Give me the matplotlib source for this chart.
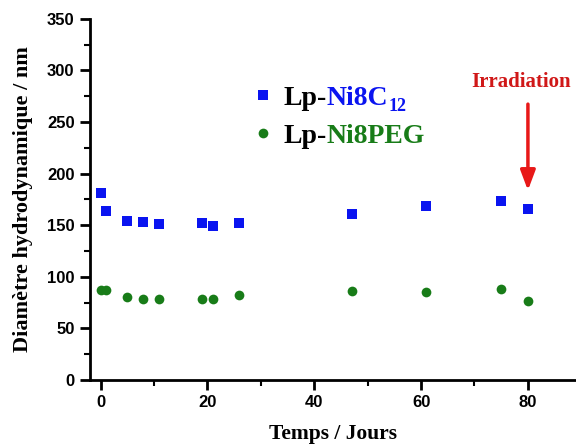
import matplotlib
matplotlib.use("Agg")
import matplotlib.pyplot as plt
from matplotlib.ticker import MultipleLocator

# données
jours_c12 = [0, 1, 5, 8, 11, 19, 21, 26, 47, 61, 75, 80]
diam_c12 = [181, 164, 154, 153, 151, 152, 149, 152, 161, 169, 173, 166]
jours_peg = [0, 1, 5, 8, 11, 19, 21, 26, 47, 61, 75, 80]
diam_peg = [87, 87, 80, 78.5, 78.5, 78, 78.5, 82, 86, 85, 88.5, 76]
jour_irradiation = 80

serif = "Liberation Serif"
sans = "Liberation Sans"
bleu = "#0a14f0"
vert = "#187c18"

fig = plt.figure(figsize=(5.76, 4.48), dpi=100)
ax = fig.add_axes([0.156, 0.152, 0.844, 0.806])

sc1, = ax.plot(jours_c12, diam_c12, "s", color=bleu, markersize=6.5, mew=0)
sc2, = ax.plot(jours_peg, diam_peg, "o", color=vert, markersize=7, mew=0)

ax.set_xlim(-2, 89)
ax.set_ylim(0, 350)
ax.xaxis.set_major_locator(MultipleLocator(20))
ax.xaxis.set_minor_locator(MultipleLocator(10))
ax.yaxis.set_major_locator(MultipleLocator(50))
ax.yaxis.set_minor_locator(MultipleLocator(25))
for s in ["top", "right"]:
    ax.spines[s].set_visible(False)
for s in ["left", "bottom"]:
    ax.spines[s].set_linewidth(2)
ax.tick_params(which="major", length=7, width=2, direction="out", pad=4)
ax.tick_params(which="minor", length=4.5, width=1.5, direction="out")
for lab in ax.get_xticklabels() + ax.get_yticklabels():
    lab.set_fontfamily(sans)
    lab.set_fontweight("bold")
    lab.set_fontsize(12)

ax.set_xlabel("Temps / Jours", fontfamily=serif, fontweight="bold", fontsize=15.5, labelpad=10)
ax.set_ylabel("Diamètre hydrodynamique / nm", fontfamily=serif, fontweight="bold", fontsize=16, labelpad=10)

# légende : "Lp-" en noir, le reste en couleur
leg = ax.legend([sc1, sc2], ["Lp-", "Lp-"], loc="upper left", bbox_to_anchor=(0.29, 0.885),
                frameon=False, handlelength=0.55, handletextpad=0.45, labelspacing=0.45,
                prop={"family": serif, "weight": "bold", "size": 20})
fig.canvas.draw()
t1, t2 = leg.get_texts()
a1 = ax.annotate("Ni8C", xy=(1, 0), xycoords=t1, va="bottom", ha="left", color=bleu,
                 fontfamily=serif, fontweight="bold", fontsize=20)
ax.annotate("12", xy=(1, 0), xycoords=a1, xytext=(0, -3), textcoords="offset points",
            va="bottom", ha="left", color=bleu, fontfamily=serif, fontweight="bold", fontsize=13)
ax.annotate("Ni8PEG", xy=(1, 0), xycoords=t2, va="bottom", ha="left", color=vert,
            fontfamily=serif, fontweight="bold", fontsize=20)

# flèche irradiation
ax.annotate("", xy=(jour_irradiation, 181), xytext=(jour_irradiation, 270),
            arrowprops=dict(arrowstyle="-|>,head_length=1.2,head_width=0.45", color="#e81818", lw=2.5))
ax.text(69.3, 279, "Irradiation", color="#d01818", fontfamily=serif,
        fontweight="bold", fontsize=15, ha="left", va="bottom", clip_on=False)

fig.savefig("out.png", dpi=100)
